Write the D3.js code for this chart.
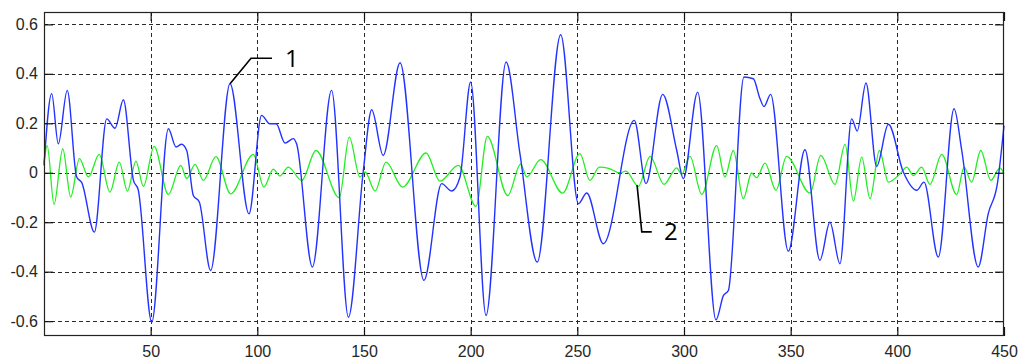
<!DOCTYPE html>
<html>
<head>
<meta charset="utf-8">
<script src="https://cdn.jsdelivr.net/npm/d3@7"></script>
<style>
  html, body { margin: 0; padding: 0; background: #ffffff; }
  svg { display: block; }
</style>
</head>
<body>
<svg id="chart" width="1020" height="361"></svg>
<script>
// ---- data ----
const xTicks = [50, 100, 150, 200, 250, 300, 350, 400, 450];
const yTicks = [-0.6, -0.4, -0.2, 0, 0.2, 0.4, 0.6];
const yTickLabels = ["-0.6", "-0.4", "-0.2", "0", "0.2", "0.4", "0.6"];

const blueX = [0, 3.6, 6.7, 10.9, 15.3, 17.7, 23.6, 29.4, 33.3, 37.2, 41.9, 44.2, 50.5, 58.3, 61.9, 64.5, 66.9, 70.0, 72.8, 78.1,
  87.2, 96.1, 102.0, 105.9, 108.8, 113.0, 116.9, 118.4, 125.8, 134.8, 142.7, 149.7, 153.6, 159.0, 166.9, 178.1, 186.4, 191.1, 195.0,
  200.0, 207.2, 216.6, 223.1, 231.2, 242.2, 250.5, 254.4, 262.2, 276.7, 282.2, 290.0, 296.6, 299.7, 306.4, 315.0, 318.5, 320.8,
  328.1, 332.5, 335.6, 337.5, 340.6, 348.9, 356.7, 363.7, 368.4, 373.1, 378.6, 381.2, 385.3, 390.3, 395.8, 402.8, 409.1, 412.5,
  419.2, 426.6, 430.2, 437.9, 442.6, 446.9, 450];
const blueY = [0.03, 0.32, 0.117, 0.333, -0.017, -0.04, -0.24, 0.218, 0.18, 0.295, -0.03, -0.07, -0.604, 0.178, 0.104, 0.115, 0.09, -0.092, -0.118, -0.395,
  0.36, -0.166, 0.232, 0.198, 0.198, 0.12, 0.138, 0.117, -0.381, 0.333, -0.584, 0.01, 0.255, 0.07, 0.445, -0.435, -0.044, -0.074, -0.017,
  0.367, -0.577, 0.448, 0.077, -0.361, 0.558, -0.125, -0.082, -0.287, 0.212, -0.044, 0.317, 0.09, -0.024, 0.326, -0.595, -0.496, -0.476,
  0.387, 0.38, 0.30, 0.268, 0.317, -0.317, 0.093, -0.354, -0.2, -0.368, 0.218, 0.169, 0.363, 0.026, 0.196, 0.003, -0.071, -0.038,
  -0.341, 0.259, 0.09, -0.381, -0.166, -0.044, 0.19];

const greenX = [0, 1.5, 4.7, 8.8, 12.5, 16.6, 20.8, 25.9, 30.9, 35.3, 39.1, 43.1, 46.6, 51.6, 58.3, 64.1, 66.9, 70.8, 74.7, 80.6,
  87.5, 98.1, 103.1, 107.5, 110.6, 114.5, 120.8, 127.5, 138.4, 143.1, 148.1, 150.5, 155.2, 160.3, 168.1, 179.1, 185.6, 194.2,
  202.5, 207.8, 217.4, 223.4, 226.3, 232.8, 243.1, 251.2, 255.9, 260.3, 264.7, 270, 272.8, 278.6, 284.1, 290.6, 296.6, 298.9,
  302.8, 308.3, 315.3, 319.2, 323.1, 327.8, 331.7, 334, 338, 343.1, 348.1, 359.1, 364.1, 370.8, 375.5, 379.4, 383.3, 387.2,
  391.6, 395.8, 401.3, 404.4, 407.5, 411.4, 415.3, 420.8, 427.8, 431.3, 434.8, 439.1, 443.8, 448.1, 450];
const greenY = [0.04, 0.11, -0.128, 0.097, -0.098, 0.057, -0.017, 0.074, -0.078, 0.043, -0.074, 0.047, -0.055, 0.107, -0.088, 0.03, -0.024, 0.034, -0.031, 0.065,
  -0.085, 0.074, -0.058, 0.015, -0.013, 0.023, -0.031, 0.09, -0.101, 0.144, -0.017, 0.003, -0.074, 0.043, -0.058, 0.08, -0.034, 0.03,
  -0.136, 0.147, -0.092, 0.035, -0.017, 0.053, -0.082, 0.077, -0.031, 0.023, 0.018, -0.001, 0.007, -0.055, 0.066, -0.047, 0.02, -0.006,
  0.066, -0.088, 0.11, -0.017, 0.09, -0.105, -0.001, -0.02, 0.039, -0.071, 0.066, -0.082, 0.07, -0.047, 0.115, -0.115, 0.063, -0.105,
  0.09, -0.038, -0.004, 0.023, -0.011, 0.023, -0.047, 0.074, -0.088, 0.023, -0.038, 0.09, -0.031, 0.02, -0.004];

// annotations: label and anchor point on the data (x, y)
const annoLabels = ["1", "2"];
const annoAnchorX = [87.2, 278];
const annoAnchorY = [0.36, -0.05];

// ---- layout ----
const svg = d3.select("#chart");
const mLeft = 44, mRight = 1004, mTop = 12, mBottom = 336;
const x = d3.scaleLinear().domain([0, 450]).range([mLeft, mRight]);
const y = d3.scaleLinear().domain([-0.66, 0.65]).range([mBottom, mTop]);

const fontFamily = "'Liberation Sans', Arial, sans-serif";

// grid
const grid = svg.append("g").attr("stroke", "#2a2a2a").attr("stroke-width", 1).attr("stroke-dasharray", "4,3");
grid.selectAll("line.v").data(xTicks.filter(t => t < 450)).join("line").attr("class", "v")
  .attr("x1", d => Math.round(x(d)) + 0.5).attr("x2", d => Math.round(x(d)) + 0.5)
  .attr("y1", mTop).attr("y2", mBottom);
grid.selectAll("line.h").data(yTicks).join("line").attr("class", "h")
  .attr("y1", d => Math.round(y(d)) + 0.5).attr("y2", d => Math.round(y(d)) + 0.5)
  .attr("x1", mLeft).attr("x2", mRight);

// lines
const pts = (xs, ys) => xs.map((v, i) => [v, ys[i]]);
const line = d3.line().x(d => x(d[0])).y(d => y(d[1])).curve(d3.curveMonotoneX);

svg.append("path").datum(pts(greenX, greenY))
  .attr("fill", "none").attr("stroke", "#22ee22").attr("stroke-width", 1.3).attr("d", line);
svg.append("path").datum(pts(blueX, blueY))
  .attr("fill", "none").attr("stroke", "#2233ff").attr("stroke-width", 1.4).attr("d", line);

// axes (ticks inward)
const tickLen = 9;
const axB = svg.append("g").attr("transform", `translate(0,${mBottom})`)
  .call(d3.axisBottom(x).tickValues(xTicks).tickSizeInner(-tickLen).tickSizeOuter(0).tickPadding(10));
const axT = svg.append("g").attr("transform", `translate(0,${mTop})`)
  .call(d3.axisTop(x).tickValues(xTicks).tickSizeInner(-tickLen).tickSizeOuter(0).tickFormat(""));
const axL = svg.append("g").attr("transform", `translate(${mLeft},0)`)
  .call(d3.axisLeft(y).tickValues(yTicks).tickSizeInner(-tickLen).tickSizeOuter(0).tickPadding(6)
    .tickFormat((d, i) => yTickLabels[i]));
const axR = svg.append("g").attr("transform", `translate(${mRight},0)`)
  .call(d3.axisRight(y).tickValues(yTicks).tickSizeInner(-tickLen).tickSizeOuter(0).tickFormat(""));

[axB, axT, axL, axR].forEach(g => {
  g.select(".domain").remove();
  g.selectAll("line").attr("stroke", "#111").attr("stroke-width", 1.2);
  g.selectAll("text").attr("font-family", fontFamily).attr("font-size", 16).attr("fill", "#262626");
});

// box
svg.append("rect").attr("x", mLeft + 0.5).attr("y", mTop + 0.5)
  .attr("width", mRight - mLeft - 1).attr("height", mBottom - mTop - 1)
  .attr("fill", "none").attr("stroke", "#222").attr("stroke-width", 1.2);

// annotations
const ann = svg.append("g").attr("stroke", "#000").attr("stroke-width", 1.6).attr("fill", "none");
{
  const ax = x(annoAnchorX[0]), ay = y(annoAnchorY[0]);
  ann.append("polyline").attr("points", `${ax},${ay} ${ax + 21},${ay - 25.5} ${ax + 42},${ay - 25.5}`);
  svg.append("text").attr("x", ax + 55).attr("y", ay - 17).text(annoLabels[0])
    .attr("font-family", "'Open Sans', sans-serif").attr("font-size", 24).attr("fill", "#000");
}
{
  const ax = x(annoAnchorX[1]), ay = y(annoAnchorY[1]);
  ann.append("polyline").attr("points", `${ax},${ay} ${ax + 4.7},${ay + 46.7} ${ax + 14.7},${ay + 46.7}`);
  svg.append("text").attr("x", ax + 27).attr("y", ay + 55).text(annoLabels[1])
    .attr("font-family", "'Open Sans', sans-serif").attr("font-size", 24).attr("fill", "#000");
}
</script>
</body>
</html>
